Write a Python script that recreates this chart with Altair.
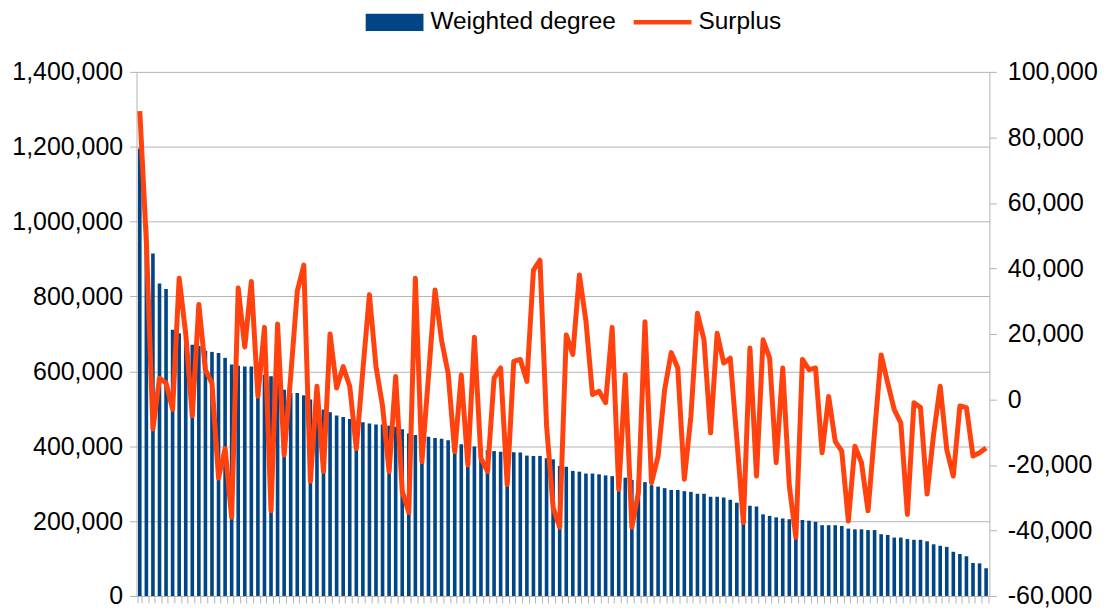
import altair as alt
import pandas as pd

# ---- data ----
weighted_degree = [
    1195000, 990000, 915000, 835000, 820000, 711000, 702000, 675000, 671000, 668000,
    655000, 652000, 649000, 636000, 618000, 615000, 613000, 613000, 605000, 591000,
    587000, 580000, 551000, 542000, 542000, 536000, 525000, 520000, 498000, 491000,
    482000, 478000, 473000, 467000, 464000, 461000, 458000, 458000, 455000, 452000,
    445000, 434000, 430000, 427000, 425000, 422000, 420000, 416000, 409000, 405000,
    402000, 399000, 393000, 389000, 387000, 385000, 384000, 384000, 383000, 375000,
    374000, 374000, 368000, 365000, 347000, 345000, 334000, 332000, 327000, 327000,
    325000, 322000, 320000, 318000, 316000, 310000, 307000, 304000, 296000, 292000,
    288000, 283000, 283000, 280000, 278000, 273000, 273000, 265000, 265000, 263000,
    257000, 249000, 245000, 241000, 239000, 218000, 214000, 210000, 207000, 205000,
    204000, 203000, 201000, 198000, 189000, 189000, 189000, 187000, 180000, 178000,
    178000, 176000, 176000, 165000, 163000, 156000, 156000, 152000, 150000, 150000,
    146000, 138000, 134000, 131000, 118000, 112000, 106000, 88000, 87000, 74000,
]

surplus = [
    88000, 48000, -9000, 6500, 5000, -3000, 37000, 20000, -5000, 29000,
    9000, 5000, -24000, -15000, -36000, 34000, 16000, 36000, 1000, 22000,
    -34000, 23000, -17000, 7000, 33000, 41000, -25000, 4000, -22000, 20000,
    3500, 10000, 4000, -15000, 9000, 32000, 10000, -2000, -22000, 7000,
    -28000, -34500, 37000, -19000, 7000, 33400, 18000, 8000, -16000, 7500,
    -20000, 19000, -18000, -22000, 6500, 9600, -26000, 11600, 12200, 5500,
    39500, 42500, -8000, -33000, -39000, 19700, 13700, 38000, 24000, 1500,
    2500, -1000, 22000, -27500, 7500, -39000, -28400, 23700, -25400, -17300,
    3000, 14300, 9600, -24400, -5200, 26300, 18200, -10200, 20200, 11100,
    12600, -12000, -37600, 15700, -23400, 18200, 12600, -19300, 9600, -26400,
    -42100, 12200, 9100, 9600, -16300, 900, -12800, -15800, -37100, -14300,
    -19300, -34000, -10000, 13600, 5000, -3100, -7200, -35100, -1000, -2500,
    -28900, -10600, 4000, -15300, -23400, -2000, -2500, -17300, -16300, -14800,
]

series_names = ["Weighted degree", "Surplus"]
series_colors = ["#004586", "#ff420e"]
left_ticks = [0, 200000, 400000, 600000, 800000, 1000000, 1200000, 1400000]
right_ticks = [-60000, -40000, -20000, 0, 20000, 40000, 60000, 80000, 100000]

df = pd.DataFrame({
    "node": list(range(len(weighted_degree))),
    "weighted_degree": weighted_degree,
    "surplus": surplus,
})
legend_df = pd.DataFrame({"series": series_names})

FONT = "Liberation Sans"
GRID = "#b3b3b3"
AXIS_FS = 25

x_enc = alt.X(
    "node:O", sort=None, title=None,
    scale=alt.Scale(paddingInner=0.45, paddingOuter=0.225),
    axis=alt.Axis(labels=False, ticks=True, tickBand="extent", tickSize=7,
                  tickColor=GRID, domainColor=GRID, grid=False),
)

bars = alt.Chart(df).mark_bar(color=series_colors[0]).encode(
    x=x_enc,
    y=alt.Y(
        "weighted_degree:Q", title=None,
        scale=alt.Scale(domain=[0, 1400000], nice=False, zero=True),
        axis=alt.Axis(orient="left", values=left_ticks, grid=True,
                      labelExpr="format(datum.value, ',')",
                      gridColor=GRID, tickColor=GRID, tickSize=7, domainColor=GRID,
                      labelFont=FONT, labelFontSize=AXIS_FS, labelColor="#000000",
                      labelPadding=7),
    ),
)

line = alt.Chart(df).mark_line(
    color=series_colors[1], strokeWidth=5, strokeJoin="round"
).encode(
    x=x_enc,
    y=alt.Y(
        "surplus:Q", title=None,
        scale=alt.Scale(domain=[-60000, 100000], nice=False, zero=False),
        axis=alt.Axis(orient="right", values=right_ticks, grid=False,
                      labelExpr="replace(format(datum.value, ','), '\u2212', '-')",
                      tickColor=GRID, tickSize=7, domainColor=GRID,
                      labelFont=FONT, labelFontSize=AXIS_FS, labelColor="#000000",
                      labelPadding=11),
    ),
)

BAR_PATH = "M-1,-0.3H1V0.3H-1Z"
LINE_PATH = "M-1,-0.08H1V0.08H-1Z"

leg = alt.Legend(
    title=None, orient="none", legendX=230, legendY=-79, direction="horizontal",
    symbolSize=3364, symbolOpacity=1, symbolStrokeWidth=0,
    labelFont=FONT, labelFontSize=24.5, labelColor="#000000", labelOffset=7,
    labelLimit=0, columnPadding=17, padding=0,
)

legend_layer = alt.Chart(legend_df).mark_point(filled=True, opacity=0).encode(
    color=alt.Color("series:N", sort=series_names,
                    scale=alt.Scale(domain=series_names, range=series_colors), legend=leg),
    shape=alt.Shape("series:N", sort=series_names,
                    scale=alt.Scale(domain=series_names, range=[BAR_PATH, LINE_PATH]), legend=leg),
)

chart = alt.layer(bars, line, legend_layer).resolve_scale(
    y="independent"
).properties(
    width=856, height=526,
    autosize=alt.AutoSizeParams(type="none"),
    padding={"left": 129, "top": 63, "right": 110, "bottom": 17},
    background="white",
).configure_view(stroke=None)

chart.save("out.html", embed_options={"renderer": "svg", "actions": False})
